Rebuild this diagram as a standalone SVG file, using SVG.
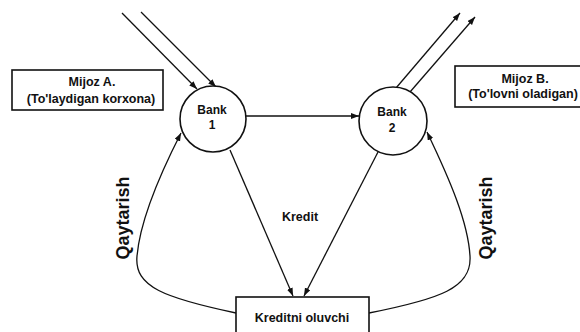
<svg xmlns="http://www.w3.org/2000/svg" width="580" height="332" viewBox="0 0 580 332">
<defs>
<style>
.ln{fill:none;stroke:#111;stroke-width:1.3}
.bx{fill:#fff;stroke:#111;stroke-width:1.6}
.t{font-family:"Liberation Sans",Arial,sans-serif;font-weight:bold;fill:#111;text-anchor:middle}
</style>
<marker id="ah" markerUnits="userSpaceOnUse" markerWidth="9" markerHeight="7" refX="8" refY="3" orient="auto">
<path d="M0,0 L8,3 L0,6 z" fill="#111"/>
</marker>
</defs>
<rect width="580" height="332" fill="#fff"/>
<g id="connectors">
<line class="ln" x1="122" y1="13" x2="197" y2="89" marker-end="url(#ah)"/>
<line class="ln" x1="141" y1="12" x2="216" y2="87" marker-end="url(#ah)"/>
<line class="ln" x1="396" y1="88" x2="460" y2="13" marker-end="url(#ah)"/>
<line class="ln" x1="410" y1="92" x2="475" y2="17" marker-end="url(#ah)"/>
<line class="ln" x1="246" y1="116" x2="359" y2="116" marker-end="url(#ah)"/>
<line class="ln" x1="230" y1="150" x2="293" y2="296" marker-end="url(#ah)"/>
<line class="ln" x1="378" y1="152" x2="304" y2="296" marker-end="url(#ah)"/>
<path class="ln" d="M236,313 C165,298 134,287 137,256 C140,222 158,178 181,133" marker-end="url(#ah)"/>
<path class="ln" d="M369,313 C440,299 472,288 470,256 C468,222 450,180 427,132" marker-end="url(#ah)"/>
</g>
<g id="mijozA">
<rect class="bx" x="12" y="70" width="151" height="40"/>
<text class="t" x="92" y="86" font-size="12.5">Mijoz A.</text>
<text class="t" x="91" y="103" font-size="12.5">(To'laydigan korxona)</text>
</g>
<g id="mijozB">
<rect class="bx" x="455" y="66" width="130" height="41"/>
<text class="t" x="525" y="83" font-size="12.5">Mijoz B.</text>
<text class="t" x="523" y="98" font-size="12.5">(To'lovni oladigan)</text>
</g>
<g id="bank1">
<circle class="bx" cx="213" cy="119" r="33"/>
<text class="t" x="212" y="114" font-size="12">Bank</text>
<text class="t" x="212" y="129" font-size="12">1</text>
</g>
<g id="bank2">
<circle class="bx" cx="393" cy="121" r="34"/>
<text class="t" x="392" y="116" font-size="12">Bank</text>
<text class="t" x="392" y="132" font-size="12">2</text>
</g>
<g id="kreditni">
<rect class="bx" x="236" y="297" width="133" height="40"/>
<text class="t" x="302" y="322" font-size="12.5">Kreditni oluvchi</text>
</g>
<g id="labels">
<text class="t" x="300" y="221" font-size="12.5">Kredit</text>
<text class="t" font-size="18" transform="translate(129,218) rotate(-90)">Qaytarish</text>
<text class="t" font-size="18" transform="translate(492,218) rotate(-90)">Qaytarish</text>
</g>
</svg>
